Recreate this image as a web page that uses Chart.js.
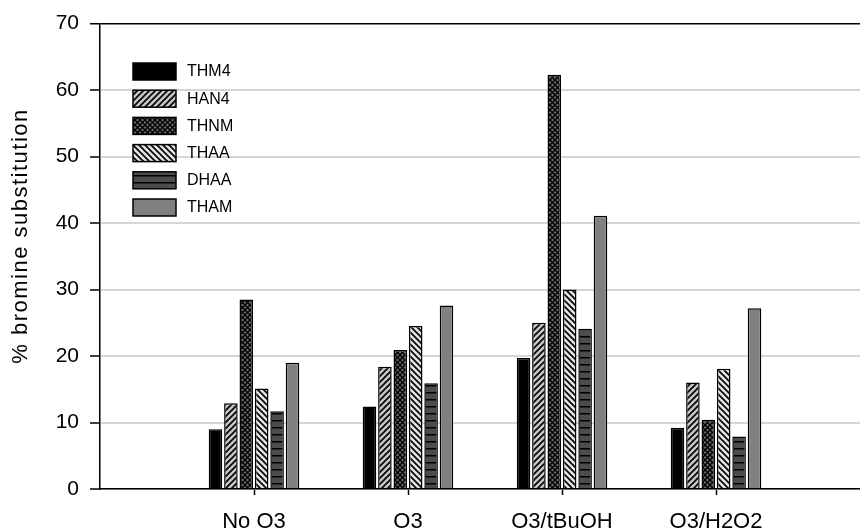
<!DOCTYPE html>
<html lang="en">
<head>
    <meta charset="UTF-8">
    <title>% bromine substitution</title>
    <style>
        html, body {
            margin: 0;
            padding: 0;
            background: #fff;
            overflow: hidden;
        }

        /* the plot runs past the right edge of the window, as in the original */
        #chart {
            display: block;
        }
    </style>
</head>
<body>
    <canvas id="chart" width="870" height="532"></canvas>

    <script src="https://cdn.jsdelivr.net/npm/chart.js"></script>
    <script>
        const categories = ['No O3', 'O3', 'O3/tBuOH', 'O3/H2O2'];
        const seriesNames = ['THM4', 'HAN4', 'THNM', 'THAA', 'DHAA', 'THAM'];

        const thm4 = [9.0, 12.4, 19.7, 9.2];
        const han4 = [12.9, 18.4, 25.0, 16.0];
        const thnm = [28.5, 20.9, 62.3, 10.4];
        const thaa = [15.1, 24.5, 30.0, 18.1];
        const dhaa = [11.7, 15.9, 24.1, 7.9];
        const tham = [19.0, 27.6, 41.1, 27.2];

        const yTicks = [0, 10, 20, 30, 40, 50, 60, 70];

        const FONT = '"Liberation Sans", Arial, sans-serif';
        const canvas = document.getElementById('chart');
        const ctx = canvas.getContext('2d');

        // small tiles for the hatched fills
        function makePattern(kind) {
            const t = document.createElement('canvas');
            const s = kind === 'cross' ? 5 : (kind === 'hlines' ? 7 : 6);
            t.width = s;
            t.height = s;
            const g = t.getContext('2d');
            g.strokeStyle = '#000';
            if (kind === 'fwd') {
                g.fillStyle = '#c4c4c4';
                g.fillRect(0, 0, s, s);
                g.lineWidth = 1.6;
                g.beginPath();
                g.moveTo(0, s); g.lineTo(s, 0);
                g.moveTo(-1, 1); g.lineTo(1, -1);
                g.moveTo(s - 1, s + 1); g.lineTo(s + 1, s - 1);
                g.stroke();
            } else if (kind === 'back') {
                g.fillStyle = '#e2e2e2';
                g.fillRect(0, 0, s, s);
                g.lineWidth = 1.6;
                g.beginPath();
                g.moveTo(0, 0); g.lineTo(s, s);
                g.moveTo(-1, s - 1); g.lineTo(1, s + 1);
                g.moveTo(s - 1, -1); g.lineTo(s + 1, 1);
                g.stroke();
            } else if (kind === 'cross') {
                g.fillStyle = '#6a6a6a';
                g.fillRect(0, 0, s, s);
                g.lineWidth = 1.3;
                g.beginPath();
                g.moveTo(0, 0); g.lineTo(s, s);
                g.moveTo(0, s); g.lineTo(s, 0);
                g.stroke();
            } else if (kind === 'hlines') {
                g.fillStyle = '#4c4c4c';
                g.fillRect(0, 0, s, s);
                g.fillStyle = '#000';
                g.fillRect(0, 0, s, 1.5);
            }
            return ctx.createPattern(t, 'repeat');
        }

        const fills = [
            '#000000',
            makePattern('fwd'),
            makePattern('cross'),
            makePattern('back'),
            makePattern('hlines'),
            '#808080'
        ];

        const values = [thm4, han4, thnm, thaa, dhaa, tham];
        // one empty slot either side so the groups sit where the original has them
        const labels = [''].concat(categories, ['']);

        const datasets = seriesNames.map((name, i) => ({
            label: name,
            data: [null].concat(values[i], [null]),
            backgroundColor: fills[i],
            borderColor: '#000',
            borderWidth: 1.5,
            categoryPercentage: 0.6,
            barPercentage: 0.88
        }));

        // legend drawn inside the plot, top-left
        const insideLegend = {
            id: 'insideLegend',
            afterDatasetsDraw(chart) {
                const c = chart.ctx;
                c.save();
                chart.data.datasets.forEach((ds, i) => {
                    const x = 133;
                    const y = 63 + i * 27.2;
                    c.fillStyle = ds.backgroundColor;
                    c.fillRect(x, y, 43, 17);
                    c.strokeStyle = '#000';
                    c.lineWidth = 1.5;
                    c.strokeRect(x, y, 43, 17);
                    c.fillStyle = '#000';
                    c.font = '16px ' + FONT;
                    c.textBaseline = 'middle';
                    c.textAlign = 'left';
                    c.fillText(ds.label, 187, y + 9);
                });
                c.restore();
            }
        };

        // y title sits a bit above the middle of the axis in the original
        const yTitle = {
            id: 'yTitle',
            afterDraw(chart) {
                const c = chart.ctx;
                c.save();
                c.translate(21, 236);
                c.rotate(-Math.PI / 2);
                c.font = '22px ' + FONT;
                c.letterSpacing = '1.5px';
                c.fillStyle = '#000';
                c.textAlign = 'center';
                c.textBaseline = 'middle';
                c.fillText('% bromine substitution', 0, 0);
                c.restore();
            }
        };

        new Chart(ctx, {
            type: 'bar',
            data: { labels: labels, datasets: datasets },
            options: {
                responsive: false,
                animation: false,
                layout: { padding: { top: 22, left: 0, right: 0, bottom: 0 } },
                plugins: {
                    legend: { display: false },
                    tooltip: { enabled: false }
                },
                scales: {
                    x: {
                        offset: false,
                        grid: {
                            offset: false,
                            drawOnChartArea: false,
                            drawTicks: true,
                            tickLength: 6,
                            tickColor: c => (c.index === 0 ? 'rgba(0,0,0,0)' : '#000'),
                            tickWidth: 1.5
                        },
                        border: { color: '#000', width: 1.5 },
                        ticks: {
                            color: '#000',
                            padding: 14,
                            maxRotation: 0,
                            autoSkip: false,
                            font: { family: FONT, size: 22 }
                        },
                        afterFit: s => { s.height = 43; s.paddingRight = 0; }
                    },
                    y: {
                        min: 0,
                        max: 70,
                        afterBuildTicks: s => { s.ticks = yTicks.map(v => ({ value: v })); },
                        grid: {
                            color: c => (c.tick && c.tick.value === 70 ? '#000' : '#d6d6d6'),
                            lineWidth: c => (c.tick && c.tick.value === 70 ? 1.5 : 2),
                            tickLength: 10,
                            tickColor: '#000',
                            tickWidth: 1.5
                        },
                        border: { color: '#000', width: 1.5 },
                        ticks: {
                            color: '#000',
                            padding: 11,
                            font: { family: FONT, size: 21 }
                        },
                        afterFit: s => { s.width = 100; }
                    }
                }
            },
            plugins: [insideLegend, yTitle]
        });
    </script>
</body>
</html>
